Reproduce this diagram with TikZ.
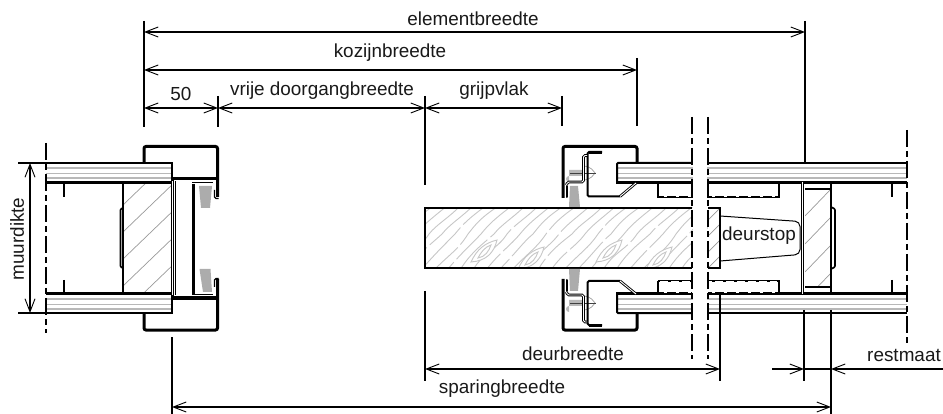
\documentclass[tikz,border=0pt]{standalone}
\usepackage{fontspec}
\setmainfont{Liberation Sans}
\usetikzlibrary{arrows.meta}
\definecolor{stripe}{gray}{0.72}
\definecolor{hatchc}{gray}{0.6}
\definecolor{grainc}{gray}{0.78}
\tikzset{
  x=1pt,y=-1pt,
  dimline/.style={line width=1.3pt,{Straight Barb[length=13pt,width=10pt,line width=.9pt]}-{Straight Barb[length=13pt,width=10pt,line width=.9pt]}},
  dimright/.style={line width=1.3pt,-{Straight Barb[length=13pt,width=10pt,line width=.9pt]}},
  ext/.style={line width=1.3pt},
  frameline/.style={line width=3pt,rounded corners=2pt},
  heavy/.style={line width=2pt},
  bold/.style={line width=3pt},
  thinline/.style={line width=1pt},
  dbl/.style={double,double distance=.9pt,line width=.9pt,rounded corners=1.5pt},
  centerline/.style={line width=1.3pt,dash pattern=on 17pt off 4pt on 6pt off 4pt},
  stripeline/.style={stripe,line width=1.8pt},
  hatchline/.style={hatchc,line width=.7pt},
  grain/.style={grainc,line width=.9pt},
  brush/.style={fill=gray!65,draw=none},
  lbl/.style={font=\fontsize{18.9}{20}\selectfont,inner sep=0pt,text=black!90},
}
\newcommand{\wallpanel}[3]{% x0, x1, top y
  \foreach \d in {5,10.5,15}{\draw[stripeline] (#1,#3+\d) -- (#2,#3+\d);}
}
\newcommand{\screwshape}[1]{% centre y
  \fill[gray!55] (569,#1-3) -- (584,#1-3) -- (584,#1+3) -- (569,#1+3) arc (270:90:3) -- cycle;
  \draw[gray!70,line width=.8pt] (584,#1-7) .. controls (592,#1-6) and (593,#1-2) .. (595,#1) .. controls (593,#1+2) and (592,#1+6) .. (584,#1+7);
  \draw[black!75,line width=.9pt] (570,#1) -- (596,#1);
}
\begin{document}
\begin{tikzpicture}
\useasboundingbox (0,0) rectangle (943,414);
% --- hatching, left wall
\begin{scope}
\clip (123,182) rectangle (172,294);
\foreach \s in {0,27,...,160}{\draw[hatchline] (123,205+\s) -- (176,154+\s);}
\end{scope}
% --- hatching, right wall
\begin{scope}
\clip (805,189) rectangle (831,287);
\foreach \s in {0,28,...,120}{\draw[hatchline] (805,216+\s) -- (831,189+\s);}
\end{scope}
% --- wood grain of the door
\begin{scope}
\clip (425,208) rectangle (720,268);
\foreach \s [count=\n] in {-60,-47,...,720}{
  \pgfmathsetmacro{\wa}{4*sin(\n*67)}
  \pgfmathsetmacro{\wb}{4*sin(\n*113)}
  \pgfmathsetmacro{\gap}{34+24*sin(\n*97)}
  \draw[grain,dash pattern=on \gap pt off 4pt on 90pt off 3pt] (\s,270) .. controls (\s+14+\wa,252) and (\s+24,246+\wb) .. (\s+34,234) .. controls (\s+42,224) and (\s+50-\wa,218) .. (\s+66,205);
}
\foreach \ex/\ey in {485/252,532/259,610/252,660/259}{
  \draw[grain,fill=white] (\ex-14,\ey+10) .. controls (\ex-8,\ey-3) and (\ex,\ey-9) .. (\ex+12,\ey-12) .. controls (\ex+9,\ey+1) and (\ex+1,\ey+9) .. (\ex-14,\ey+10) -- cycle;
  \draw[grain] (\ex-7,\ey+6) .. controls (\ex-4,\ey) and (\ex,\ey-5) .. (\ex+6,\ey-7) .. controls (\ex+4,\ey-1) and (\ex,\ey+5) .. (\ex-7,\ey+6) -- cycle;
}
\end{scope}
\begin{scope}
\clip (708,208) rectangle (720,268);
\fill[white] (708,208) rectangle (720,268);
\foreach \s in {0,16,...,70}{\draw[hatchline] (708,220+\s) -- (722,206+\s);}
\end{scope}
% --- wall panels
\foreach \py in {163,294}{
  \wallpanel{46}{172}{\py}
  \wallpanel{617}{907}{\py}
}
\draw[heavy] (46,163) -- (172,163) -- (172,182);
\draw[bold] (46,183) -- (172,183);
\draw[bold] (46,294) -- (172,294);
\draw[heavy] (172,294) -- (172,313) -- (46,313);
\draw[heavy,rounded corners=1pt] (692,163) -- (617,163) -- (617,183);
\draw[heavy,rounded corners=1pt] (617,294) -- (617,313) -- (692,313);
\draw[bold] (616,183) -- (692,183);
\draw[bold] (616,294) -- (692,294);
\draw[heavy] (708,163) -- (907,163);
\draw[bold] (708,183) -- (907,183);
\draw[bold] (708,294) -- (907,294);
\draw[heavy] (708,313) -- (907,313);
% --- left wall: block and ticks
\draw[heavy] (123,182) -- (123,294);
\draw[line width=1.6pt,rounded corners=1pt] (123,208) -- (120.5,209) -- (120.5,267) -- (123,268);
\draw[heavy] (63.5,182) -- (63.5,197);
\draw[heavy] (63.5,280) -- (63.5,294);
% --- left frame
\draw[frameline] (144,163) -- (144,146.5) -- (217.5,146.5) -- (217.5,197);
\draw[frameline] (144,313) -- (144,330) -- (217.5,330) -- (217.5,279);
\draw[line width=3.4pt] (172,178.5) -- (219,178.5);
\draw[line width=3.4pt] (172,298) -- (219,298);
\draw[line width=1.4pt,rounded corners=1.5pt] (214.5,190) -- (214.5,198.5) -- (218.5,198.5);
\draw[line width=1.4pt,rounded corners=1.5pt] (214.5,287) -- (214.5,278.5) -- (218.5,278.5);
\draw[bold] (172.3,178) -- (172.3,298);
\draw[white,line width=.7pt] (172.3,181) -- (172.3,295);
\draw[thinline] (175,181) -- (175,295);
\draw[line width=2.8pt] (193.5,183) -- (193.5,295);
\draw[dbl] (213,183) -- (192,183);
\draw[dbl] (213,295) -- (192,295);
\fill[brush] (199,186) -- (212,186) -- (210,208) -- (201,208) -- cycle;
\fill[brush] (199.5,269) -- (210.5,269) -- (212,292) -- (203,292) -- cycle;
% --- door
\draw[heavy] (692,208) -- (425,208) -- (425,268) -- (692,268);
\draw[heavy] (708,208) -- (720,208) -- (720,268) -- (708,268);
% --- brushes at door
\fill[brush] (570,186) -- (578,186) -- (580,207) -- (569,207) -- cycle;
\fill[brush] (569,269) -- (580,269) -- (578,291) -- (570,291) -- cycle;
% --- right frame, screws
\screwshape{173}
\screwshape{303}
\draw[frameline] (637,163) -- (637,146.5) -- (563,146.5) -- (563,198);
\draw[frameline] (637,313) -- (637,330) -- (563,330) -- (563,279);
\draw[line width=2pt,line cap=round] (566.5,186) -- (566.5,197);
\draw[line width=2pt,line cap=round] (566.5,280) -- (566.5,291);
\draw[line width=3pt] (589,152.5) -- (602,152.5);
\draw[line width=3pt] (589,325) -- (602,325);
\draw[heavy,rounded corners=1.5pt] (602,152) -- (587.5,152) -- (587.5,196.5) -- (620,196.5);
\draw[heavy,rounded corners=1.5pt] (602,325) -- (587.5,325) -- (587.5,281) -- (620,281);
\draw[dbl,rounded corners=0pt] (620,196.5) -- (636,183);
\draw[dbl,rounded corners=0pt] (620,281) -- (636,294);
\draw[dbl] (587,155.5) -- (583.5,155.5) -- (583.5,182) -- (567.5,182) -- (566.5,185);
\draw[dbl] (587,322) -- (583.5,322) -- (583.5,295) -- (567.5,295) -- (566.5,292);
% --- sliding element under the panel
\draw[heavy] (658,182) -- (658,197) -- (779,197) -- (779,182);
\draw[heavy] (658,281) -- (779,281) -- (779,294);
\draw[heavy] (658,281) -- (658,294);
\draw[white,line width=1.2pt,dash pattern=on 2.5pt off 9.5pt] (664,196.3) -- (777,196.3);
\draw[white,line width=1pt,dash pattern=on 2.5pt off 9.5pt] (664,184.6) -- (777,184.6);
\draw[white,line width=.9pt,dash pattern=on 8pt off 3pt] (660,281.5) -- (777,281.5);
\draw[white,line width=1pt,dash pattern=on 2.5pt off 9.5pt] (664,292.4) -- (777,292.4);
% --- deurstop
\draw[thinline,rounded corners=5pt] (720,216) -- (800,221.5) -- (800,254.5) -- (720,261);
\node[lbl] (stop) at (759,236) {deurstop};
% --- right wall block
\draw[dbl,rounded corners=0pt] (802.5,182) -- (802.5,294);
\draw[line width=1.2pt] (805,189) -- (831,189);
\draw[line width=1.2pt] (805,287) -- (831,287);
\draw[heavy] (831,182) -- (831,294);
\draw[line width=1.6pt,rounded corners=1pt] (831,207) -- (835,209) -- (835,267) -- (831,269);
\draw[heavy] (891.5,182) -- (891.5,197);
\draw[heavy] (891.5,280) -- (891.5,294);
% --- break gap
\fill[white] (692.7,160) rectangle (707.3,316);
% --- centre lines
\coordinate (cla) at (46,143);   \coordinate (clb) at (46,333);
\coordinate (clc) at (692,117);  \coordinate (cld) at (692,359);
\coordinate (cle) at (708,117);  \coordinate (clf) at (708,359);
\coordinate (clg) at (907,130);  \coordinate (clh) at (907,345);
\draw[centerline] (cla) -- (clb);
\draw[centerline] (clc) -- (cld);
\draw[centerline] (cle) -- (clf);
\draw[centerline] (clg) -- (clh);
% --- extension lines
\coordinate (e1a) at (144,21);  \coordinate (e1b) at (144,127);
\coordinate (e2a) at (805,21);  \coordinate (e2b) at (805,163);
\coordinate (e3a) at (637,58);  \coordinate (e3b) at (637,126);
\coordinate (e4a) at (218,96);  \coordinate (e4b) at (218,127);
\coordinate (e5a) at (425,96);  \coordinate (e5b) at (425,185);
\coordinate (e6a) at (562,96);  \coordinate (e6b) at (562,126);
\coordinate (e7a) at (425,291); \coordinate (e7b) at (425,381);
\coordinate (e8a) at (720,292); \coordinate (e8b) at (720,381);
\coordinate (e9a) at (804,310); \coordinate (e9b) at (804,381);
\coordinate (e10a) at (831,310);\coordinate (e10b) at (831,414);
\coordinate (e11a) at (172,337);\coordinate (e11b) at (172,414);
\coordinate (e12a) at (18,163); \coordinate (e12b) at (46,163);
\coordinate (e13a) at (18,313); \coordinate (e13b) at (46,313);
\foreach \k in {1,...,13}{\draw[ext] (e\k a) -- (e\k b);}
% --- dimension lines
\coordinate (d1a) at (144,32);  \coordinate (d1b) at (805,32);
\coordinate (d2a) at (144,70);  \coordinate (d2b) at (637,70);
\coordinate (d3a) at (144,108); \coordinate (d3b) at (218,108);
\coordinate (d4a) at (218,108); \coordinate (d4b) at (425,108);
\coordinate (d5a) at (425,108); \coordinate (d5b) at (562,108);
\coordinate (d6a) at (425,369); \coordinate (d6b) at (720,369);
\coordinate (d7a) at (172,407); \coordinate (d7b) at (831,407);
\coordinate (d8a) at (30,163);  \coordinate (d8b) at (30,313);
\foreach \k in {1,...,8}{\draw[dimline] (d\k a) -- (d\k b);}
\coordinate (r1a) at (772,369); \coordinate (r1b) at (804,369);
\coordinate (r2a) at (943,369); \coordinate (r2b) at (831,369);
\draw[dimright] (r1a) -- (r1b);
\draw[dimright] (r2a) -- (r2b);
\draw[ext] (r1b) -- (r2b);
% --- labels
\node[lbl] (l1) at (473,19) {elementbreedte};
\node[lbl] (l2) at (390,53) {kozijnbreedte};
\node[lbl] (l3) at (181,94) {50};
\node[lbl] (l4) at (322,91) {vrije doorgangbreedte};
\node[lbl] (l5) at (494,91) {grijpvlak};
\node[lbl] (l6) at (573,354) {deurbreedte};
\node[lbl] (l7) at (502,389) {sparingbreedte};
\node[lbl] (l8) at (904,355) {restmaat};
\node[lbl,rotate=90] (l9) at (17,239) {muurdikte};
\end{tikzpicture}
\end{document}
